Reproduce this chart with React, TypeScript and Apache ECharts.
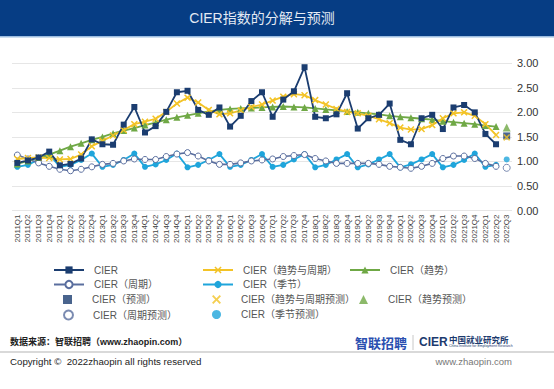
import React, { useEffect, useRef } from "react";
import * as echarts from "echarts";

const categories = [
  "2011Q1","2011Q2","2011Q3","2011Q4","2012Q1","2012Q2","2012Q3","2012Q4",
  "2013Q1","2013Q2","2013Q3","2013Q4","2014Q1","2014Q2","2014Q3","2014Q4",
  "2015Q1","2015Q2","2015Q3","2015Q4","2016Q1","2016Q2","2016Q3","2016Q4",
  "2017Q1","2017Q2","2017Q3","2017Q4","2018Q1","2018Q2","2018Q3","2018Q4",
  "2019Q1","2019Q2","2019Q3","2019Q4","2020Q1","2020Q2","2020Q3","2020Q4",
  "2021Q1","2021Q2","2021Q3","2021Q4","2022Q1","2022Q2","2022Q3",
];

const cier = [
  0.97, 1.02, 1.08, 1.20, 0.92, 0.95, 1.06, 1.45, 1.35, 1.34, 1.75, 2.11,
  1.59, 1.72, 2.01, 2.41, 2.44, 2.05, 1.95, 2.10, 1.71, 1.93, 2.23, 2.41,
  1.91, 2.26, 2.43, 2.92, 1.91, 1.88, 1.96, 2.39, 1.67, 1.88, 1.95, 2.18,
  1.44, 1.35, 1.88, 1.95, 1.66, 2.10, 2.15, 2.00, 1.56, 1.35,
];
const trendCycle = [
  1.05, 1.07, 1.08, 1.07, 1.04, 1.05, 1.14, 1.31, 1.42, 1.53, 1.64, 1.76,
  1.81, 1.87, 2.01, 2.18, 2.30, 2.20, 2.05, 1.96, 1.98, 2.04, 2.11, 2.16,
  2.24, 2.32, 2.37, 2.35, 2.25, 2.16, 2.07, 2.01, 1.98, 1.93, 1.86, 1.78,
  1.69, 1.65, 1.66, 1.74, 1.88, 1.98, 2.00, 1.93, 1.76, 1.54,
];
const trend = [
  0.95, 1.01, 1.08, 1.14, 1.22, 1.30, 1.37, 1.44, 1.50, 1.57, 1.63, 1.68,
  1.74, 1.79, 1.85, 1.90, 1.94, 1.98, 2.02, 2.05, 2.07, 2.08, 2.09, 2.10,
  2.11, 2.12, 2.11, 2.10, 2.08, 2.06, 2.04, 2.02, 2.00, 1.98, 1.96, 1.93,
  1.91, 1.89, 1.87, 1.85, 1.82, 1.80, 1.78, 1.76, 1.73, 1.71,
];
const cycle = [
  1.13, 1.05, 0.97, 0.90, 0.84, 0.81, 0.84, 0.89, 0.94, 0.96, 1.01, 1.05,
  1.04, 1.04, 1.10, 1.15, 1.18, 1.11, 1.01, 0.94, 0.94, 0.97, 1.01, 1.03,
  1.05, 1.10, 1.12, 1.14, 1.06, 1.01, 0.96, 0.96, 0.96, 0.96, 0.94, 0.90,
  0.88, 0.86, 0.90, 0.96, 1.06, 1.11, 1.11, 1.06, 0.96, 0.90,
];
const season = [
  0.89, 0.93, 1.04, 1.15, 0.89, 0.93, 1.03, 1.16, 0.89, 0.93, 1.03, 1.16,
  0.89, 0.94, 1.03, 1.16, 0.88, 0.93, 1.03, 1.15, 0.89, 0.93, 1.03, 1.15,
  0.89, 0.93, 1.04, 1.15, 0.88, 0.93, 1.04, 1.15, 0.88, 0.94, 1.04, 1.15,
  0.88, 0.94, 1.04, 1.15, 0.88, 0.93, 1.03, 1.16, 0.89, 0.93,
];
// forecasts for 2022Q3
const cierForecast = 1.52;
const trendCycleForecast = 1.49;
const trendForecast = 1.69;
const cycleForecast = 0.87;
const seasonForecast = 1.04;

const yTicks = [0, 0.5, 1, 1.5, 2, 2.5, 3];

const NAVY = "#1b3d70";
const YELLOW = "#f3c326";
const GREEN = "#6fa845";
const SLATE = "#5a6e9e";
const CYAN = "#1fa5db";
const XSYM =
  "path://M0,1.5 L1.5,0 L5,3.5 L8.5,0 L10,1.5 L6.5,5 L10,8.5 L8.5,10 L5,6.5 L1.5,10 L0,8.5 L3.5,5 Z";

const FONT = "'Liberation Sans', Arial, 'Noto Sans CJK SC', sans-serif";

export default function App() {
  const ref = useRef<HTMLDivElement>(null);
  useEffect(() => {
    if (!ref.current) return;
    const chart = echarts.init(ref.current, undefined, { renderer: "svg" });
    const fIdx = categories.length - 1;
    const mkLegend = (name: string, left: number, top: number) => ({
      data: [name],
      left,
      top,
      padding: 0,
      itemWidth: 30,
      itemHeight: 9,
      textStyle: { color: "#555", fontSize: 10, fontFamily: FONT, padding: [0, 0, 0, 5] },
      selectedMode: false,
    });
    const mkSymLegend = (name: string, left: number, top: number) => ({
      data: [name],
      left: left + 10,
      top,
      padding: 0,
      itemWidth: 9,
      itemHeight: 9,
      textStyle: { color: "#555", fontSize: 10, fontFamily: FONT, padding: [0, 0, 0, 15] },
      selectedMode: false,
    });
    const rows = [265, 279.5, 294.5, 309.5];
    const cols = [53, 202, 349];
    const option: any = {
      animation: false,
      backgroundColor: "#ffffff",
      textStyle: { fontFamily: FONT },
      grid: { left: 12, right: 42, top: 63.3, bottom: 389 - 210.5, containLabel: false },
      xAxis: {
        type: "category",
        data: categories,
        boundaryGap: true,
        axisLine: { show: false },
        axisTick: { show: false },
        axisLabel: { rotate: 90, interval: 0, fontSize: 8, color: "#444", margin: 4, fontFamily: FONT },
        splitLine: { show: false },
      },
      yAxis: {
        type: "value",
        position: "right",
        min: yTicks[0],
        max: yTicks[yTicks.length - 1],
        interval: 0.5,
        axisLine: { show: false },
        axisTick: { show: false },
        axisLabel: {
          fontSize: 11,
          color: "#333",
          margin: 5,
          fontFamily: FONT,
          formatter: (v: number) => v.toFixed(2),
        },
        splitLine: { lineStyle: { color: "#e6e6e6", width: 1 } },
      },
      legend: [
        mkLegend("CIER", cols[0], rows[0]),
        mkLegend("CIER（趋势与周期）", cols[1], rows[0]),
        mkLegend("CIER（趋势）", cols[2], rows[0]),
        mkLegend("CIER（周期）", cols[0], rows[1]),
        mkLegend("CIER（季节）", cols[1], rows[1]),
        mkSymLegend("CIER（预测）", cols[0], rows[2]),
        mkSymLegend("CIER（趋势与周期预测）", cols[1], rows[2]),
        mkSymLegend("CIER（趋势预测）", cols[2], rows[2]),
        mkSymLegend("CIER（周期预测）", cols[0], rows[3]),
        mkSymLegend("CIER（季节预测）", cols[1], rows[3]),
      ],
      series: [
        {
          name: "CIER（季节）",
          type: "line",
          data: season,
          symbol: "circle",
          symbolSize: 6,
          color: CYAN,
          lineStyle: { width: 1.8, color: CYAN },
          itemStyle: { color: CYAN },
        },
        {
          name: "CIER（周期）",
          type: "line",
          data: cycle,
          symbol: "circle",
          symbolSize: 6,
          color: SLATE,
          lineStyle: { width: 1.6, color: SLATE },
          itemStyle: { color: "#ffffff", borderColor: SLATE, borderWidth: 1 },
        },
        {
          name: "CIER（趋势）",
          type: "line",
          data: trend,
          symbol: "triangle",
          symbolSize: 7,
          color: GREEN,
          lineStyle: { width: 1.8, color: GREEN },
          itemStyle: { color: GREEN },
        },
        {
          name: "CIER（趋势与周期）",
          type: "line",
          data: trendCycle,
          symbol: XSYM,
          symbolSize: 7,
          color: YELLOW,
          lineStyle: { width: 1.8, color: YELLOW },
          itemStyle: { color: YELLOW },
        },
        {
          name: "CIER",
          type: "line",
          data: cier,
          symbol: "rect",
          symbolSize: 6,
          color: NAVY,
          lineStyle: { width: 1.8, color: NAVY },
          itemStyle: { color: NAVY },
        },
        {
          name: "CIER（预测）",
          type: "scatter",
          data: [[fIdx, cierForecast]],
          symbol: "rect",
          symbolSize: 7,
          itemStyle: { color: NAVY },
        },
        {
          name: "CIER（趋势与周期预测）",
          type: "scatter",
          data: [[fIdx, trendCycleForecast]],
          symbol: XSYM,
          symbolSize: 7,
          itemStyle: { color: YELLOW },
        },
        {
          name: "CIER（趋势预测）",
          type: "scatter",
          data: [[fIdx, trendForecast]],
          symbol: "triangle",
          symbolSize: 8,
          itemStyle: { color: GREEN },
        },
        {
          name: "CIER（周期预测）",
          type: "scatter",
          data: [[fIdx, cycleForecast]],
          symbol: "circle",
          symbolSize: 7,
          itemStyle: { color: "#ffffff", borderColor: SLATE, borderWidth: 1 },
        },
        {
          name: "CIER（季节预测）",
          type: "scatter",
          data: [[fIdx, seasonForecast]],
          symbol: "circle",
          symbolSize: 6,
          itemStyle: { color: CYAN },
        },
      ],
      graphic: [
        { type: "rect", left: 0, top: 0, shape: { x: 0, y: 0, width: 554, height: 36 }, style: { fill: "#063d84" }, silent: true },
        { type: "line", shape: { x1: 0, y1: 36.7, x2: 554, y2: 36.7 }, style: { stroke: "#9cbde0", lineWidth: 1.5 }, silent: true },
        {
          type: "text",
          x: 262,
          y: 18,
          style: {
            text: "CIER指数的分解与预测",
            fill: "#e3eaf4",
            fontSize: 14,
            fontFamily: FONT,
            align: "center",
            verticalAlign: "middle",
          },
        },
        {
          type: "text",
          x: 10,
          y: 342,
          style: {
            text: "数据来源：智联招聘（www.zhaopin.com）",
            fill: "#222",
            fontSize: 9,
            fontWeight: "bold",
            fontFamily: FONT,
            verticalAlign: "middle",
          },
        },
        {
          type: "text",
          x: 355,
          y: 342,
          style: { text: "智联招聘", fill: "#2a4fb0", fontSize: 13, fontWeight: "bold", fontFamily: "'Noto Sans CJK SC', sans-serif", verticalAlign: "middle" },
        },
        { type: "line", shape: { x1: 413, y1: 335, x2: 413, y2: 350 }, style: { stroke: "#c8c8c8", lineWidth: 1 }, silent: true },
        {
          type: "text",
          x: 419,
          y: 342,
          style: { text: "CIER", fill: "#1c3a6e", fontSize: 12, fontWeight: "bold", fontFamily: FONT, verticalAlign: "middle" },
        },
        {
          type: "text",
          x: 449,
          y: 339,
          style: { text: "中国就业研究所", fill: "#1c3a6e", fontSize: 8.5, fontWeight: "bold", fontFamily: "'Noto Sans CJK SC', sans-serif", verticalAlign: "middle" },
        },
        {
          type: "text",
          x: 449,
          y: 346,
          style: { text: "China Institute for Employment Research", fill: "#1c3a6e", fontSize: 3.5, fontFamily: FONT, verticalAlign: "middle" },
        },
        { type: "line", shape: { x1: 0, y1: 352, x2: 554, y2: 352 }, style: { stroke: "#d9d9d9", lineWidth: 2 }, silent: true },
        {
          type: "text",
          x: 10,
          y: 361,
          style: { text: "Copyright ©  2022zhaopin all rights reserved", fill: "#222", fontSize: 9.7, fontFamily: FONT, verticalAlign: "middle" },
        },
        {
          type: "text",
          x: 512,
          y: 361,
          style: { text: "www.zhaopin.com", fill: "#777", fontSize: 9.5, fontFamily: FONT, align: "right", verticalAlign: "middle" },
        },
      ],
    };
    chart.setOption(option);
    return () => chart.dispose();
  }, []);
  return (
    <div
      ref={ref}
      style={{ position: "fixed", left: 0, top: 0, width: 554, height: 389, background: "#fff" }}
    />
  );
}
